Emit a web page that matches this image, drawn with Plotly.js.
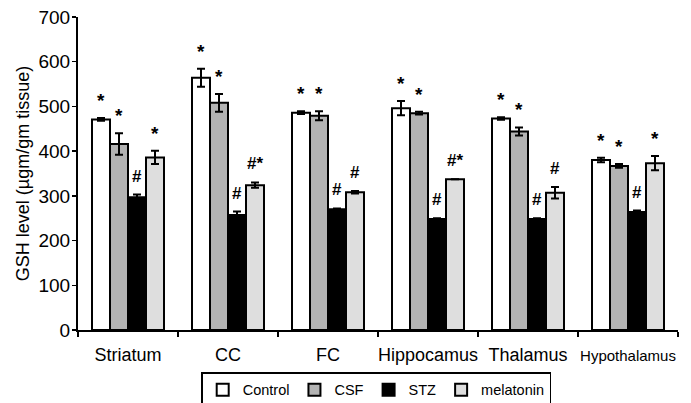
<!DOCTYPE html>
<html><head><meta charset="utf-8">
<script src="https://cdn.plot.ly/plotly-3.0.1.min.js"></script>
<style>html,body{margin:0;padding:0;background:#fff}#chart{width:691px;height:403px}</style>
</head><body><div id="chart"></div>
<script>
const categories = ["Striatum","CC","FC","Hippocamus","Thalamus","Hypothalamus"];
const tickLabels = ["Striatum","CC","FC","Hippocamus","Thalamus","<span style=\"font-size:15px\">Hypothalamus</span>"];
const seriesNames = ["Control","CSF","STZ","melatonin"];
const control   = [471, 564, 486, 496, 473, 380];
const controlErr= [3, 20, 3, 16, 3, 5];
const csf       = [416, 508, 479, 485, 444, 367];
const csfErr    = [24, 20, 10, 3, 9, 4];
const stz       = [297, 257, 270, 248, 248, 264];
const stzErr    = [6, 8, 2, 2, 2, 3];
const melatonin = [386, 324, 308, 337, 307, 373];
const melatoninErr = [15, 6, 3, 0, 13, 16];
const marks = [
  ["*","*","#","*"],
  ["*","*","#","#*"],
  ["*","*","#","#"],
  ["*","*","#","#*"],
  ["*","*","#","#"],
  ["*","*","#","*"]
];
const colors = ["#ffffff","#b3b3b3","#000000","#dedede"];
const vals = [control, csf, stz, melatonin];
const errs = [controlErr, csfErr, stzErr, melatoninErr];

const traces = seriesNames.map((n,k)=>({
  type:'bar', name:n, x:categories, y:vals[k],
  marker:{color:colors[k], line:{color:'#000', width:2}},
  error_y:{type:'data', array:errs[k], visible:true, color:'#000', thickness:2, width:4}
}));

const bw = 0.18;
const annotations = [];
categories.forEach((c,i)=>{
  for(let k=0;k<4;k++){
    const top = vals[k][i] + errs[k][i];
    const m = marks[i][k];
    annotations.push({
      x: i + (k-1.5)*bw, y: top, xref:'x', yref:'y',
      text: m, showarrow:false, yanchor:'bottom', yshift: m==='*'?5:7,
      font:{family:'Liberation Sans, Arial', size: m==='*'?19:17, color:'#000', weight:'bold'}
    });
  }
});

const layout = {
  width:691, height:403,
  margin:{l:78, r:13, t:17, b:73, autoexpand:false},
  paper_bgcolor:'#fff', plot_bgcolor:'#fff',
  barmode:'group', bargap:0.28, bargroupgap:0,
  font:{family:'Liberation Sans, Arial', color:'#000'},
  showlegend:true,
  legend:{orientation:'h', x:0.497, xanchor:'center', y:-0.135, yanchor:'top',
    bordercolor:'#000', borderwidth:1.5, font:{size:14.5}, itemwidth:30,
    traceorder:'normal', tracegroupgap:0},
  xaxis:{type:'category', showline:true, linecolor:'#000', linewidth:2,
    tickmode:'array', tickvals:categories, ticktext:tickLabels, tickangle:0, automargin:false,
    ticks:'outside', tickson:'boundaries', ticklen:5, tickwidth:1.5, tickcolor:'#000',
    tickfont:{size:18}, ticklabelstandoff:7, showgrid:false, zeroline:false},
  yaxis:{range:[0,700], dtick:100, showline:true, linecolor:'#000', linewidth:2, automargin:true,
    ticks:'outside', ticklen:4, tickwidth:1.5, tickcolor:'#000', ticklabelstandoff:-2,
    tickfont:{size:19}, showgrid:false, zeroline:false,
    title:{text:'GSH level (µgm/gm tissue)', font:{size:18}, standoff:4}},
  annotations: annotations
};
Plotly.newPlot('chart', traces, layout, {displayModeBar:false, staticPlot:true});
</script></body></html>
